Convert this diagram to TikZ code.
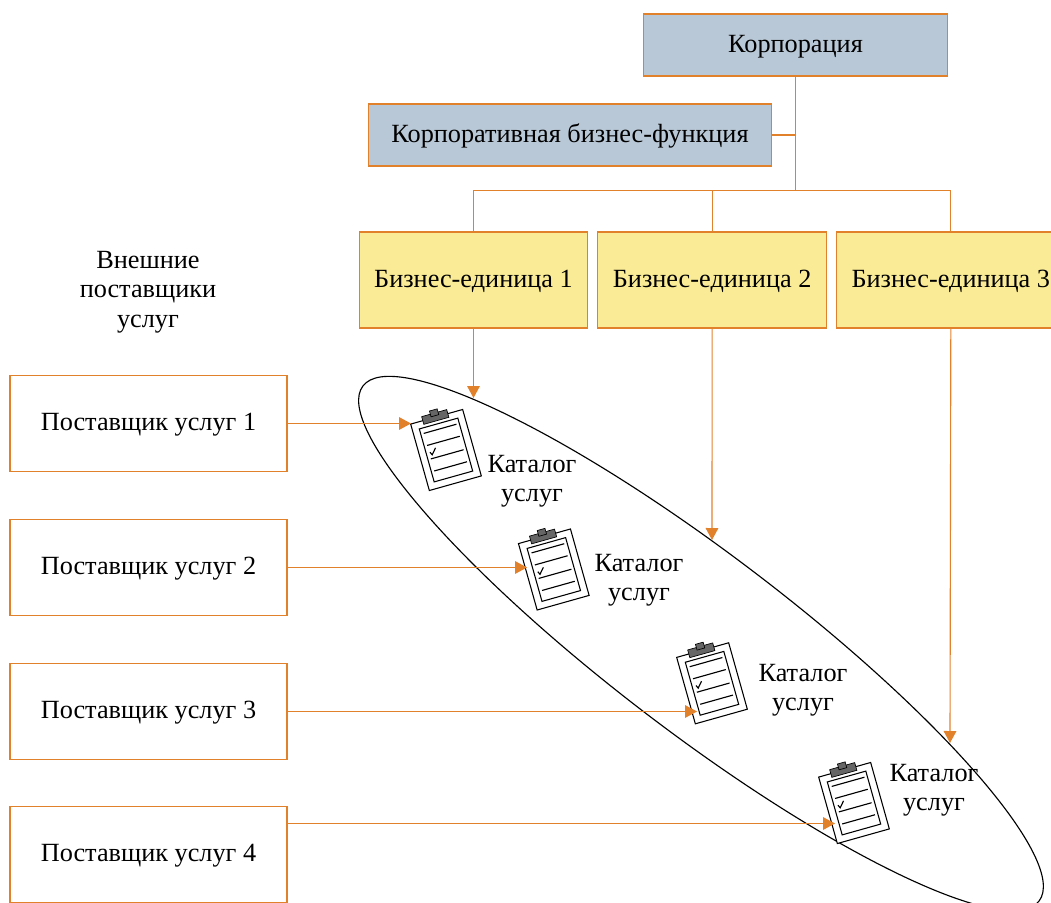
\documentclass[tikz,border=0pt]{standalone}
\usepackage{fontspec}
\setmainfont{Liberation Serif}
\usepackage{tikz}
\usetikzlibrary{positioning}
\usetikzlibrary{arrows.meta}
\usetikzlibrary{shapes.geometric}

\definecolor{linkorange}{HTML}{E2812C}
\definecolor{corpblue}{HTML}{B9C8D6}
\definecolor{unityellow}{HTML}{FAEC96}
\definecolor{clipgray}{HTML}{666666}

\tikzset{
  label text/.style={font=\fontsize{19.7pt}{22pt}\selectfont, align=center},
  box/.style={draw=linkorange, line width=0.85pt, outer sep=0pt, inner sep=0pt, label text, text height=15.5pt, text depth=5pt},
  corpbox/.style={box, fill=corpblue, minimum height=46.5pt},
  unitbox/.style={box, fill=unityellow, minimum width=171.5pt, minimum height=72pt},
  supplierbox/.style={box, fill=white, minimum width=207.75pt, minimum height=72.5pt},
  link/.style={draw=linkorange, line width=0.85pt},
  feed/.style={link, -{Triangle[length=9pt,width=9.5pt]}},
  catalogicon/.pic={
    \draw[fill=white, line width=0.8pt] (-27,-34.5) rectangle (27,34.5);
    \draw[line width=0.8pt] (-20,-27.5) rectangle (20,27.5);
    \draw[fill=clipgray, line width=0.5pt] (-14.4,-38.7) rectangle (11.6,-30.7);
    \draw[fill=clipgray, line width=0.5pt] (-5.4,-42) rectangle (2.6,-36);
    \draw[line width=0.85pt] (-17,-22) -- (17,-22);
    \draw[line width=0.85pt] (-17,-9.5) -- (17,-9.5);
    \draw[line width=0.85pt] (-17,4.5) -- (17,4.5);
    \draw[line width=0.85pt] (-17,17) -- (17,17);
    \draw[line width=0.85pt] (-16,-2.2) -- (-14.6,0.9) -- (-9.5,-4.9);
  }
}

\begin{document}
\begin{tikzpicture}[x=0.75pt, y=-0.75pt]
      \clip (0,0) rectangle (1051,903);
      % Define nodes
      \node[corpbox, minimum width=228pt] (corp) at (795.5,45) {Корпорация};
      \node[corpbox, minimum width=302.25pt] (func) at (570,135) {Корпоративная бизнес-функция};
      \node[unitbox] (unit1) at (473.5,280) {Бизнес-единица 1};
      \node[unitbox, right=7.5pt of unit1] (unit2) {Бизнес-единица 2};
      \node[unitbox, right=7.5pt of unit2] (unit3) {Бизнес-единица 3};
      \node[label text] (head) at (148,292) {Внешние\\поставщики\\услуг};
      \node[supplierbox] (sup1) at (148.5,423.5) {Поставщик услуг 1};
      \node[supplierbox] (sup2) at (148.5,567.5) {Поставщик услуг 2};
      \node[supplierbox] (sup3) at (148.5,711.5) {Поставщик услуг 3};
      \node[supplierbox] (sup4) at (148.5,854.5) {Поставщик услуг 4};
      \node[draw, ellipse, line width=0.85pt, inner sep=0pt, outer sep=0pt, minimum width=637.5pt, minimum height=133.5pt, rotate=-37.3] (catalogs) at (701,643.5) {};
      % Catalogue icons and captions
      \pic[rotate=15.7] at (446,450) {catalogicon};
      \pic[rotate=15.7] at (553.8,569.5) {catalogicon};
      \pic[rotate=15.7] at (712,683.3) {catalogicon};
      \pic[rotate=15.7] at (854,803) {catalogicon};
      \node[label text] (cap1) at (532,481) {Каталог\\услуг};
      \node[label text] (cap2) at (639,580) {Каталог\\услуг};
      \node[label text] (cap3) at (803,690) {Каталог\\услуг};
      \node[label text] (cap4) at (934,790) {Каталог\\услуг};
      % Free ends of the arrows
      \coordinate (in1) at (411,423.5);
      \coordinate (in2) at (527,567.5);
      \coordinate (in3) at (697,711.5);
      \coordinate (in4) at (835,823.5);
      \coordinate (top1) at (473.5,398);
      \coordinate (top2) at (712,540);
      \coordinate (top3) at (950,743);
      \coordinate (fork) at (795.5,190.5);
      % Connect nodes
      \draw[link] (corp.south) -- (fork);
      \draw[link] (func.east) -- (func.east -| corp.south);
      \draw[link] (fork) -| (unit1.north);
      \draw[link] (fork) -| (unit2.north);
      \draw[link] (fork) -| (unit3.north);
      \draw[feed] (unit1.south) -- (top1);
      \draw[feed] (unit2.south) -- (top2);
      \draw[feed] (unit3.south) -- (top3);
      \draw[feed] (sup1.east) -- (in1);
      \draw[feed] (sup2.east) -- (in2);
      \draw[feed] (sup3.east) -- (in3);
      \draw[feed] (sup4.east |- in4) -- (in4);
    \end{tikzpicture}
\end{document}
